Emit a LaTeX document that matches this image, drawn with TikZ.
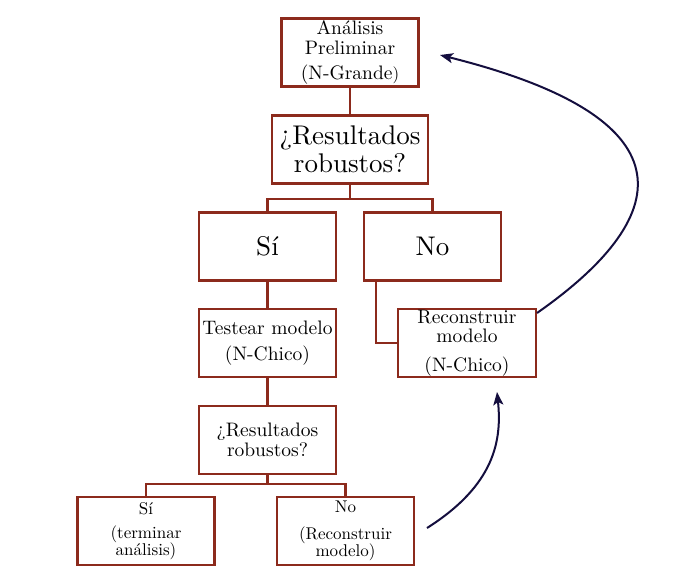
\documentclass[tikz,border=0pt]{standalone}
\usepackage{fontspec}
\setmainfont{lmroman10-regular}[Extension=.otf, BoldFont=lmroman10-bold, ItalicFont=lmroman10-italic]
\usetikzlibrary{arrows.meta,calc}
\definecolor{boxred}{RGB}{140,42,28}
\definecolor{navyarrow}{RGB}{20,14,62}
\newcommand{\bigf}{\fontsize{27}{28}\selectfont}
\newcommand{\midf}{\fontsize{19.5}{19.5}\selectfont}
\newcommand{\smf}{\fontsize{17}{17}\selectfont}
\tikzset{
  flowbox/.style={draw=boxred, line width=2.4pt, fill=white, rectangle, inner sep=0pt,
    minimum width=137pt, minimum height=68pt, align=center, text=black},
  bigtext/.style={font=\bigf},
  midtext/.style={font=\midf},
  smtext/.style={font=\smf},
  link/.style={draw=boxred, line width=2.4pt},
  backarrow/.style={draw=navyarrow, line width=2pt, -{Stealth[length=13pt,width=10pt,inset=3pt]}}
}
\begin{document}
\begin{tikzpicture}[x=1pt,y=-1pt]
\useasboundingbox (0,0) rectangle (691,579);
\node[flowbox, midtext] (top) at (350,52.5) {Análisis\\Preliminar\\[6pt](N-Grande{\smf)}};
\node[flowbox, bigtext, minimum width=156pt] (q1) at (350,149.5) {¿Resultados\\robustos?};
\node[flowbox, bigtext] (si) at (267.5,246.5) {Sí};
\node[flowbox, bigtext] (no) at (432.5,246.5) {No};
\node[flowbox, midtext] (test) at (267.5,343) {Testear modelo\\[7pt](N-Chico)};
\node[flowbox, midtext, minimum width=138pt] (rec) at (467,343) {Reconstruir\\modelo\\[9pt](N-Chico)};
\node[flowbox, midtext] (q2) at (267.5,440) {¿Resultados\\robustos?};
\node[flowbox, smtext] (si2) at (146,531) {Sí\\[7pt](terminar\\análisis)};
\node[flowbox, smtext] (no2) at (345.5,531) {No\\[10pt](Reconstruir\\modelo)};

\draw[link] (top.south) -- (q1.north);
\draw[link] (q1.south) -- ++(0,14) coordinate (j1);
\draw[link] (j1) -| (si.north);
\draw[link] (j1) -| (no.north);
\draw[link] (si.south) -- (test.north);
\draw[link] ([xshift=13pt]no.south west) |- (rec.west);
\draw[link] (test.south) -- (q2.north);
\draw[link] (q2.south) -- ++(0,9) coordinate (j2);
\draw[link] (j2) -| (si2.north);
\draw[link] (j2) -| (no2.north);

\coordinate (a1s) at (537,313);
\coordinate (a1e) at (440,55);
\coordinate (a2s) at (427,528);
\coordinate (a2e) at (497,392);
\draw[backarrow] (a1s) .. controls (670,220) and (700,120) .. (a1e);
\draw[backarrow] (a2s) .. controls (495,485) and (502,440) .. (a2e);
\end{tikzpicture}
\end{document}
